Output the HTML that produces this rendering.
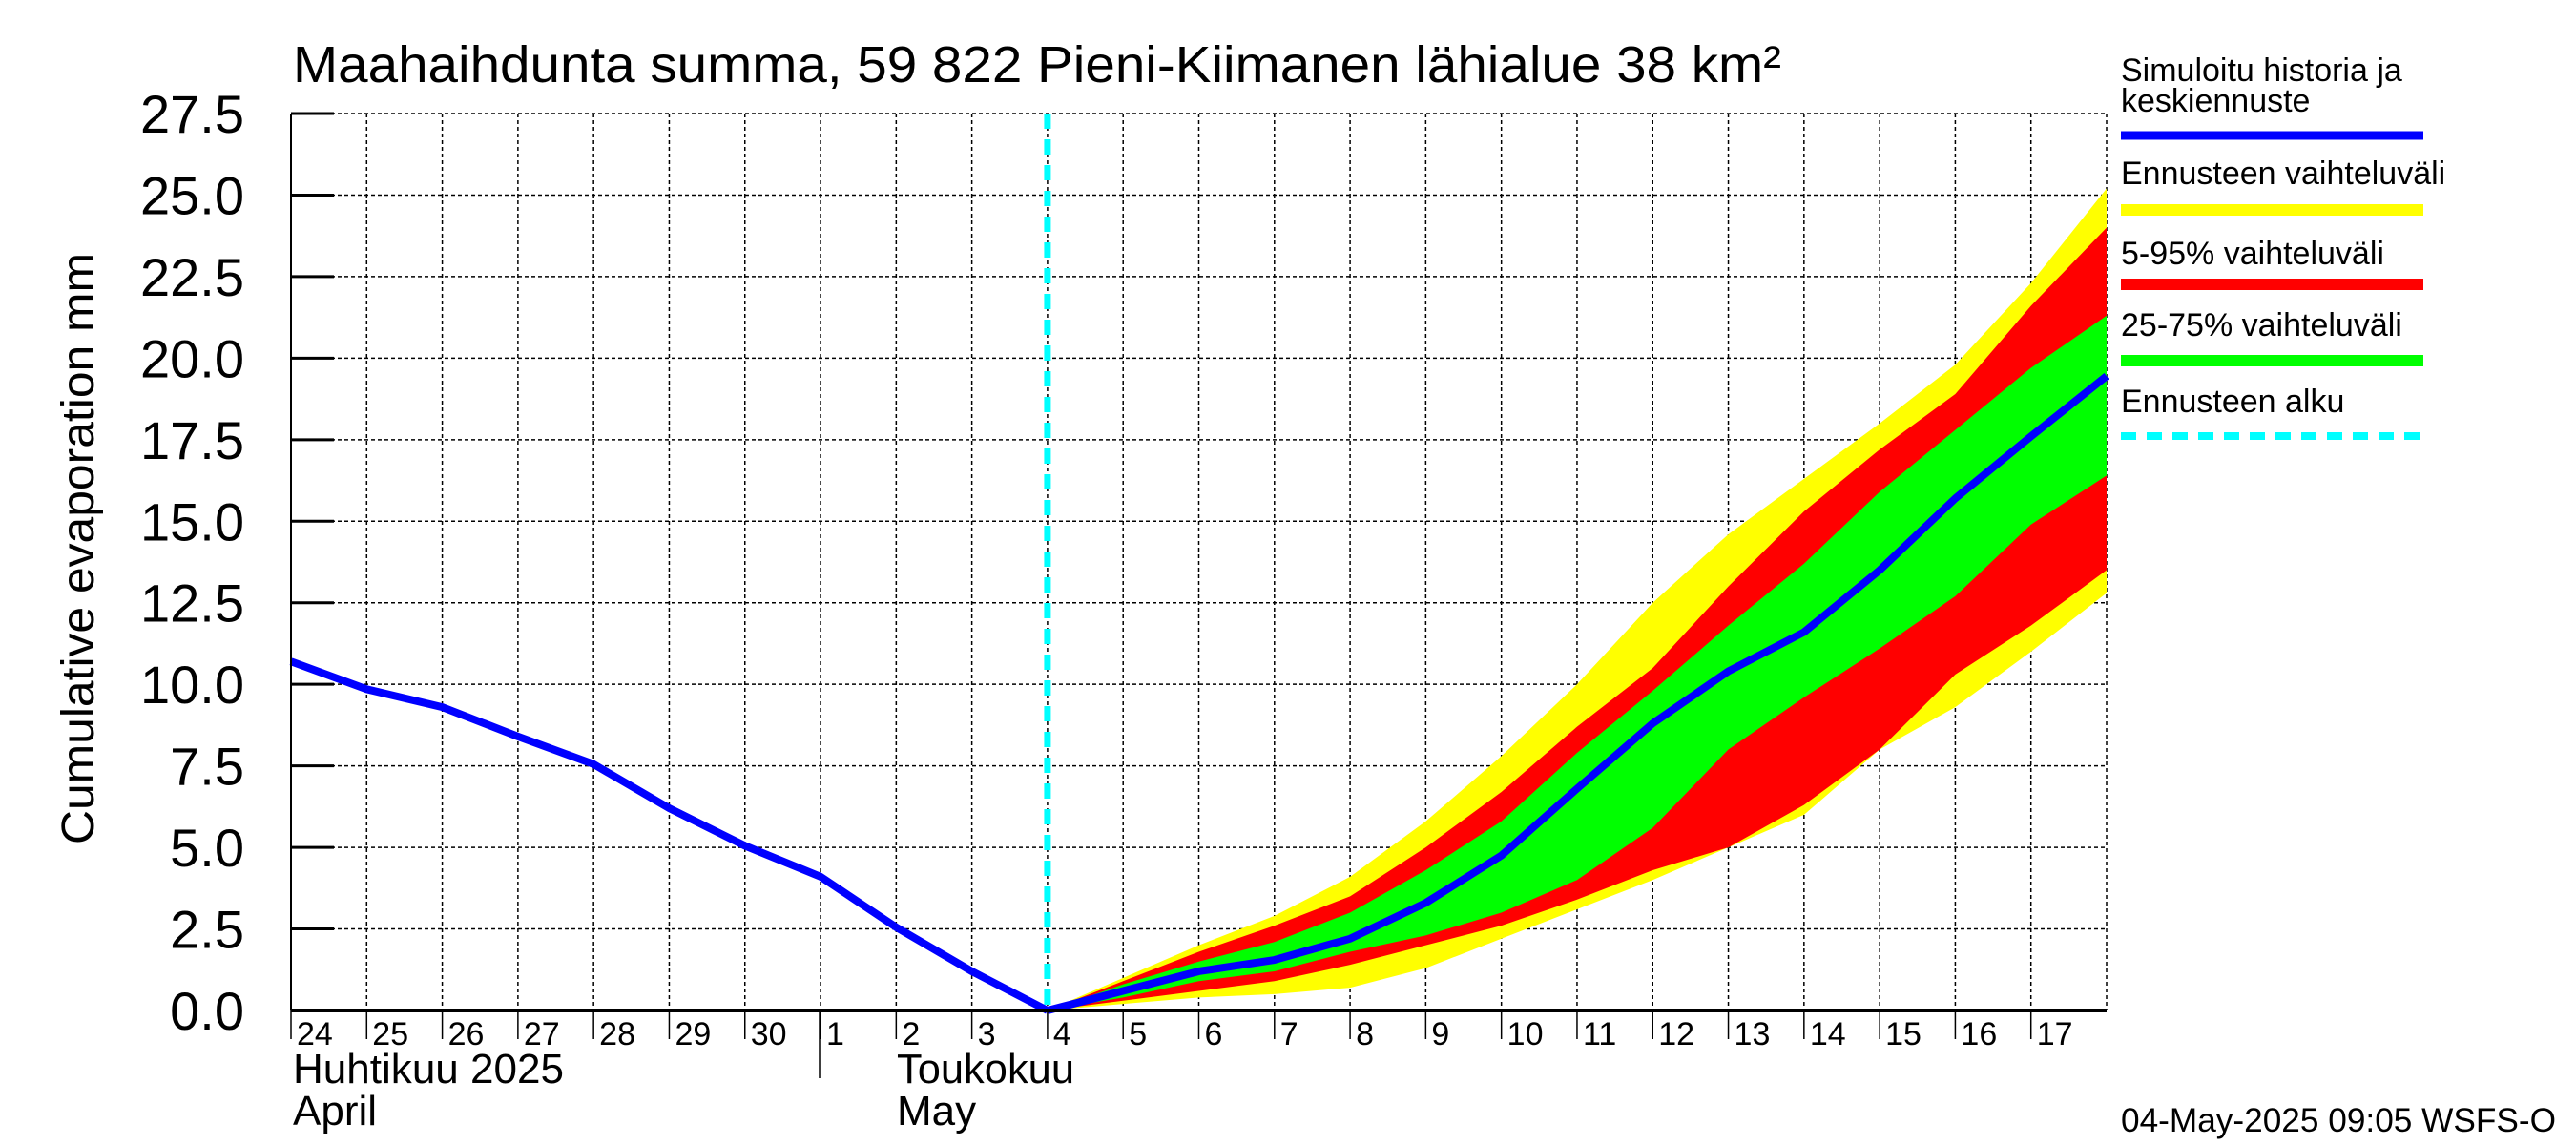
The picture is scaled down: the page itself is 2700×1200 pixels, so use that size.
<!DOCTYPE html>
<html><head><meta charset="utf-8"><style>
html,body{margin:0;padding:0;background:#fff}
svg{display:block;font-family:"Liberation Sans",sans-serif}
</style></head><body>
<svg id="chart" width="2700" height="1200" viewBox="0 0 2700 1200" xmlns="http://www.w3.org/2000/svg">
<rect width="2700" height="1200" fill="#fff"/>
<g id="grid"></g>
<g id="bands"></g>
<g id="lines"></g>
<g id="axes"></g>
<text x="307" y="86" font-size="54" textLength="1560" lengthAdjust="spacingAndGlyphs">Maahaihdunta summa, 59 822 Pieni-Kiimanen lähialue 38 km²</text>
<text transform="translate(98,575) rotate(-90)" text-anchor="middle" font-size="48" textLength="620" lengthAdjust="spacingAndGlyphs">Cumulative evaporation   mm</text>
<text x="307" y="1135" font-size="44" textLength="284" lengthAdjust="spacingAndGlyphs">Huhtikuu  2025</text>
<text x="307" y="1179" font-size="44">April</text>
<text x="940" y="1135" font-size="44" textLength="186" lengthAdjust="spacingAndGlyphs">Toukokuu</text>
<text x="940" y="1179" font-size="44">May</text>
<text x="2223" y="1186" font-size="35" textLength="456" lengthAdjust="spacingAndGlyphs">04-May-2025 09:05 WSFS-O</text>
<g font-size="34">
<text x="2223" y="85">Simuloitu historia ja</text>
<text x="2223" y="117">keskiennuste</text>
<line x1="2223" x2="2540" y1="142" y2="142" stroke="#0000ff" stroke-width="9"/>
<text x="2223" y="193">Ennusteen vaihteluväli</text>
<line x1="2223" x2="2540" y1="220" y2="220" stroke="#ffff00" stroke-width="12"/>
<text x="2223" y="277">5-95% vaihteluväli</text>
<line x1="2223" x2="2540" y1="298" y2="298" stroke="#ff0000" stroke-width="12"/>
<text x="2223" y="352">25-75% vaihteluväli</text>
<line x1="2223" x2="2540" y1="378" y2="378" stroke="#00ff00" stroke-width="12"/>
<text x="2223" y="432">Ennusteen alku</text>
<line x1="2223" x2="2540" y1="457" y2="457" stroke="#00ffff" stroke-width="8" stroke-dasharray="16,11"/>
</g>
</svg>
<script>
const dayLabels=["24","25","26","27","28","29","30","1","2","3","4","5","6","7","8","9","10","11","12","13","14","15","16","17"];
const yTicks=[0,2.5,5,7.5,10,12.5,15,17.5,20,22.5,25,27.5];
const histIdx=[0,1,2,3,4,5,6,7,8,9,10];
const histVals=[10.7,9.85,9.3,8.4,7.55,6.2,5.05,4.1,2.55,1.2,0];
const fcIdx=[10,11,12,13,14,15,16,17,18,19,20,21,22,23,24];
const median=[0,0.6,1.2,1.55,2.2,3.3,4.75,6.8,8.8,10.4,11.6,13.5,15.7,17.6,19.45];
const p25=[0,0.4,0.9,1.2,1.8,2.3,3.0,4.0,5.6,8.0,9.6,11.1,12.7,14.9,16.4];
const p75=[0,0.8,1.5,2.1,3.0,4.3,5.8,7.9,9.8,11.8,13.7,15.9,17.8,19.7,21.3];
const p5=[0,0.3,0.6,0.9,1.4,2.0,2.6,3.4,4.3,5.0,6.3,8.0,10.3,11.8,13.5];
const p95=[0,0.9,1.8,2.6,3.5,5.0,6.7,8.7,10.5,13.0,15.3,17.2,18.9,21.6,24.0];
const minV=[0,0.2,0.4,0.5,0.7,1.3,2.2,3.1,4.0,5.0,6.0,8.0,9.3,11.0,12.8];
const maxV=[0,1.0,2.0,2.9,4.1,5.8,7.8,10.0,12.5,14.6,16.3,18.0,19.8,22.3,25.2];
const forecastStart=10;

const X0=305,X1=2208,Y0=1059,Y1=119,NDAYS=24,YMAX=27.5;
const xs=d=>X0+d*(X1-X0)/NDAYS;
const ys=v=>Y0-v*(Y0-Y1)/YMAX;
const NS="http://www.w3.org/2000/svg";
function mk(tag,parent,attrs){const e=document.createElementNS(NS,tag);for(const k in attrs)e.setAttribute(k,attrs[k]);parent.appendChild(e);return e;}
const grid=document.getElementById('grid'),bands=document.getElementById('bands'),lines=document.getElementById('lines'),axes=document.getElementById('axes');

yTicks.forEach(v=>{
  const l=mk('line',grid,{x1:X0,x2:X1,y1:ys(v),y2:ys(v),stroke:'#000','stroke-width':1.5,'stroke-dasharray':'4,3'});
  
  
  const t=mk('line',axes,{x1:X0,x2:X0+45,y1:ys(v),y2:ys(v),stroke:'#000','stroke-width':3});
  
  
  const tx=mk('text',axes,{x:256,y:ys(v)+20,'text-anchor':'end','font-size':56});
  tx.textContent=v.toFixed(1);
  
  
});
for(let d=0;d<=NDAYS;d++){
  const l=mk('line',grid,{x1:xs(d),x2:xs(d),y1:Y1,y2:Y0,stroke:'#000','stroke-width':1.5,'stroke-dasharray':'4,3'});
  
  
  if(d<NDAYS){
    const t=mk('line',axes,{x1:xs(d),x2:xs(d),y1:Y0,y2:Y0+30,stroke:'#000','stroke-width':1.5});
    
    
  }
}
dayLabels.forEach((s,i)=>{
  const t=mk('text',axes,{x:xs(i)+6,y:1095,'font-size':34});
  t.textContent=s;
  
  
});
function band(lo,hi,color,name){
  let pts=fcIdx.map((d,i)=>xs(d)+','+ys(hi[i]));
  for(let i=fcIdx.length-1;i>=0;i--)pts.push(xs(fcIdx[i])+','+ys(lo[i]));
  const p=mk('polygon',bands,{points:pts.join(' '),fill:color});
  
  
}
band(minV,maxV,'#ffff00','band-min-max');
band(p5,p95,'#ff0000','band-5-95');
band(p25,p75,'#00ff00','band-25-75');
const fsl=mk('line',lines,{x1:xs(forecastStart),x2:xs(forecastStart),y1:Y1,y2:Y0,stroke:'#00ffff','stroke-width':7,'stroke-dasharray':'16,11'});


const hp=mk('polyline',lines,{points:histIdx.map((d,i)=>xs(d)+','+ys(histVals[i])).join(' '),fill:'none',stroke:'#0000ff','stroke-width':8,'stroke-linejoin':'round'});


const mp=mk('polyline',lines,{points:fcIdx.map((d,i)=>xs(d)+','+ys(median[i])).join(' '),fill:'none',stroke:'#0000ff','stroke-width':8,'stroke-linejoin':'round'});


const ax=mk('line',axes,{x1:X0,x2:X1,y1:Y0,y2:Y0,stroke:'#000','stroke-width':4});


const ay=mk('line',axes,{x1:X0,x2:X0,y1:Y1,y2:Y0,stroke:'#000','stroke-width':2});


const sep=mk('line',axes,{x1:859,x2:859,y1:Y0,y2:1130,stroke:'#000','stroke-width':1.5});


</script>
</body></html>
